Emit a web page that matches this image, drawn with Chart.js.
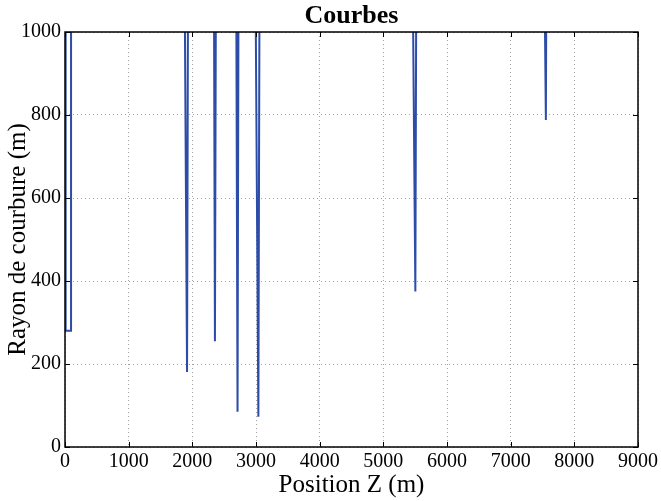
<!DOCTYPE html>
<html>
<head>
<meta charset="utf-8">
<script src="https://cdn.jsdelivr.net/npm/chart.js@4.4.1/dist/chart.umd.min.js"></script>
<style>
  html, body { margin: 0; padding: 0; background: #fff; }
  #boite { width: 661px; height: 501px; }
</style>
</head>
<body>
<div id="boite"><canvas id="courbes"></canvas></div>
<script>
// Valeurs. Un rayon au-dessus de 1000 = alignement droit (hors du cadre)
const RAYON_DROIT = 1100;
const positions = [10, 10, 95, 95, 1880, 1917, 1932, 2340, 2355, 2370, 2690, 2710, 2725,
                   2993, 3037, 3055, 5463, 5503, 5517, 7533, 7553, 7560, 8900];
const rayons = [RAYON_DROIT, 280, 280, RAYON_DROIT, RAYON_DROIT, 181, RAYON_DROIT,
                RAYON_DROIT, 255, RAYON_DROIT, RAYON_DROIT, 85, RAYON_DROIT,
                RAYON_DROIT, 73, RAYON_DROIT, RAYON_DROIT, 375, RAYON_DROIT,
                RAYON_DROIT, 788, RAYON_DROIT, RAYON_DROIT];
const graduationsX = [0, 1000, 2000, 3000, 4000, 5000, 6000, 7000, 8000, 9000];
const graduationsY = [0, 200, 400, 600, 800, 1000];

const police = "'Liberation Serif', 'Times New Roman', serif";

// Cadre noir et petites graduations vers l'intérieur sur les quatre côtés
const cadre = {
    id: "cadre",
    afterDatasetsDraw(chart) {
        const ctx = chart.ctx;
        const a = chart.chartArea;
        const sx = chart.scales.x;
        const sy = chart.scales.y;
        ctx.save();
        ctx.strokeStyle = "#000";
        ctx.lineWidth = 1;
        ctx.beginPath();
        graduationsX.forEach((v) => {
            const px = Math.round(sx.getPixelForValue(v)) + 0.5;
            ctx.moveTo(px, a.bottom); ctx.lineTo(px, a.bottom - 5);
            ctx.moveTo(px, a.top); ctx.lineTo(px, a.top + 5);
        });
        graduationsY.forEach((v) => {
            const py = Math.round(sy.getPixelForValue(v)) + 0.5;
            ctx.moveTo(a.left, py); ctx.lineTo(a.left + 5, py);
            ctx.moveTo(a.right, py); ctx.lineTo(a.right - 5, py);
        });
        ctx.stroke();
        ctx.lineWidth = 1.5;
        ctx.strokeRect(a.left, a.top, a.right - a.left, a.bottom - a.top);
        ctx.restore();
    }
};

new Chart(document.getElementById("courbes").getContext("2d"), {
    type: "line",
    data: {
        datasets: [
            {
                label: "Rayon",
                data: positions.map((p, i) => ({ x: p, y: rayons[i] })),
                borderColor: "#2c4ca8",
                borderWidth: 2,
                pointRadius: 0,
                fill: false,
                tension: 0
            }
        ]
    },
    options: {
        responsive: true,
        maintainAspectRatio: false,
        animation: false,
        layout: { padding: { left: 0, right: 23, top: 0, bottom: 0 } },
        plugins: {
            legend: { display: false },
            tooltip: { enabled: false },
            title: {
                display: true,
                fullSize: false,
                text: "Courbes",
                color: "#000",
                font: { family: police, size: 26, weight: "bold", lineHeight: 1 },
                padding: { top: 3, bottom: 3 }
            }
        },
        scales: {
            x: {
                type: "linear",
                min: 0,
                max: 9000,
                afterBuildTicks: (s) => { s.ticks = graduationsX.map((v) => ({ value: v })); },
                afterFit: (s) => { s.height = 54; },
                ticks: {
                    color: "#000", font: { family: police, size: 20 }, padding: 3, maxRotation: 0,
                    callback: (v) => String(v)
                },
                grid: { color: "#a3a3a3", lineWidth: 1, drawTicks: false },
                border: { display: false, dash: [1, 3] },
                title: {
                    display: true,
                    text: "Position Z (m)",
                    color: "#000",
                    font: { family: police, size: 25 },
                    padding: { top: 0, bottom: 1 }
                }
            },
            y: {
                min: 0,
                max: 1000,
                afterBuildTicks: (s) => { s.ticks = graduationsY.map((v) => ({ value: v })); },
                afterFit: (s) => { s.width = 65; },
                ticks: {
                    color: "#000", font: { family: police, size: 20 }, padding: 4,
                    callback: (v) => String(v)
                },
                grid: { color: "#a3a3a3", lineWidth: 1, drawTicks: false },
                border: { display: false, dash: [1, 3] },
                title: {
                    display: true,
                    text: "Rayon de courbure (m)",
                    color: "#000",
                    font: { family: police, size: 25 },
                    padding: { top: 3, bottom: 0 }
                }
            }
        }
    },
    plugins: [cadre]
});
</script>
</body>
</html>
